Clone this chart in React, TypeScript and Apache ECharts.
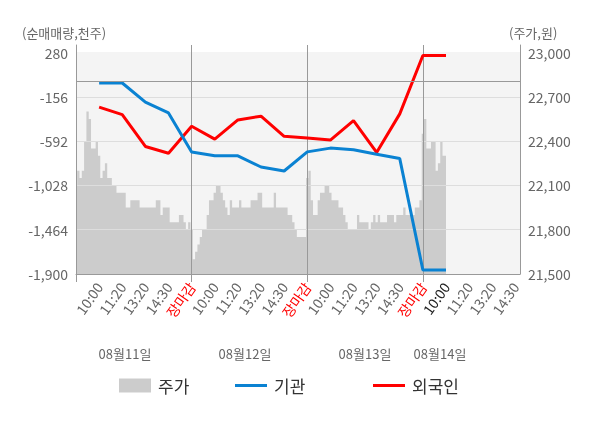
import React, { useEffect, useRef } from "react";
import * as echarts from "echarts";

const FONT = '"Noto Sans CJK KR", "Noto Sans", sans-serif';

// x-axis tick labels (one day = 5 label slots)
const TIME_LABELS = ["10:00", "11:20", "13:20", "14:30", "장마감"];
const DATES = ["08월11일", "08월12일", "08월13일", "08월14일"];
const DATE_X = [125, 245, 365, 440];

// left axis (순매매량, 천주) and right axis (주가, 원) ticks
const LEFT_TICKS = [-1900, -1464, -1028, -592, -156, 280];
const RIGHT_TICKS = [21500, 21800, 22100, 22400, 22700, 23000];

// price (주가), one value per sample; 10 samples per label slot
const PRICE = [
  // 08/11
  22100, 22200, 22150, 22200, 22400, 22600, 22550, 22350, 22350, 22400,
  22300, 22150, 22200, 22250, 22150, 22150, 22100, 22100, 22050, 22050,
  22050, 22050, 21950, 21950, 22000, 22000, 22000, 22000, 21950, 21950,
  21950, 21950, 21950, 21950, 21950, 22000, 22000, 21900, 21950, 21950,
  21950, 21850, 21850, 21850, 21850, 21900, 21900, 21850, 21800, 21850,
  // 08/12
  21800, 21600, 21650, 21700, 21750, 21800, 21800, 21900, 22000, 22000,
  22050, 22100, 22100, 22050, 22000, 21950, 21900, 22000, 21950, 21950,
  21950, 22000, 21950, 21950, 21950, 21950, 22000, 22000, 22000, 22050,
  22050, 21950, 21950, 21950, 21950, 21950, 22050, 21950, 21950, 21950,
  21950, 21950, 21900, 21900, 21850, 21800, 21750, 21750, 21750, 21750,
  // 08/13
  22150, 22200, 22000, 21900, 21900, 22000, 22050, 22050, 22100, 22100,
  22050, 22000, 22000, 22000, 21950, 21950, 21900, 21850, 21800, 21800,
  21800, 21800, 21900, 21850, 21850, 21850, 21850, 21800, 21850, 21900,
  21850, 21900, 21850, 21850, 21850, 21900, 21900, 21900, 21850, 21900,
  21900, 21900, 21950, 21900, 21900, 21900, 21900, 21950, 21950, 22000,
  // 08/14
  22450, 22550, 22350, 22350, 22400, 22400, 22200, 22250, 22400, 22300,
  22300,
];

// net buying (천주) at each label slot: 10:00, 11:20, 13:20, 14:30, 장마감 per day
const INSTITUTION = [
  -20, -20, -209, -315, -700,
  -737, -737, -847, -886, -698,
  -661, -678, -721, -764, -1860,
  -1860,
];
const FOREIGN = [
  -258, -331, -645, -711, -446,
  -572, -384, -347, -545, -562,
  -582, -391, -704, -324, 250,
  250,
];

const SLOT = 10; // samples per label slot
const DAY = SLOT * TIME_LABELS.length;
const TOTAL = 193;

const LEFT_MIN = LEFT_TICKS[0];
const LEFT_MAX = LEFT_TICKS[LEFT_TICKS.length - 1];
const LEFT_INT = LEFT_TICKS[1] - LEFT_TICKS[0];
const RIGHT_MIN = RIGHT_TICKS[0];
const RIGHT_MAX = RIGHT_TICKS[RIGHT_TICKS.length - 1];
const RIGHT_INT = RIGHT_TICKS[1] - RIGHT_TICKS[0];

// layout
const GRID_TOP = 45;
const GRID_BOTTOM = 154;
const PLOT_H = 428 - GRID_TOP - GRID_BOTTOM;
const TOP_PAD = 7.5; // axis lines run this far above the shaded plot area
const EXT = PLOT_H / (PLOT_H - TOP_PAD);

const fmt = (v: number) => Math.round(v).toLocaleString("en-US");

export default function App() {
  const ref = useRef<HTMLDivElement>(null);
  useEffect(() => {
    if (!ref.current) return;
    const chart = echarts.init(ref.current, null, { renderer: "svg" });
    const categories = Array.from({ length: TOTAL }, (_, i) => String(i));
    const labelFor = (i: number) => {
      if (i <= 0 || i % SLOT !== 0) return "";
      return TIME_LABELS[(i / SLOT - 1) % TIME_LABELS.length];
    };
    const colorFor = (i: number) => {
      const t = labelFor(i);
      if (t === "장마감") return "#ff0000";
      if (i === 3 * DAY + SLOT) return "#222222";
      return "#666666";
    };
    const leftRange = LEFT_MAX - LEFT_MIN;
    const rightRange = RIGHT_MAX - RIGHT_MIN;
    const legendBase = {
      top: 372,
      itemWidth: 32,
      selectedMode: false,
      textStyle: { fontSize: 17, color: "#333333", fontFamily: FONT, padding: [0, 0, 0, 2] },
    };
    const option: any = {
      animation: false,
      textStyle: { fontFamily: FONT },
      grid: {
        left: 76,
        right: 80,
        top: GRID_TOP,
        bottom: GRID_BOTTOM,
        show: false,
      },
      xAxis: {
        type: "category",
        data: categories,
        boundaryGap: false,
        z: 2,
        axisLine: { lineStyle: { color: "#999999" } },
        axisTick: {
          show: true,
          interval: (i: number) => i % DAY === 0,
          length: 8,
          lineStyle: { color: "#999999" },
        },
        axisLabel: {
          interval: (i: number) => i > 0 && i % SLOT === 0,
          rotate: 55,
          margin: 10,
          fontSize: 14,
          fontFamily: FONT,
          formatter: (v: string) => labelFor(Number(v)),
          color: (v: string) => colorFor(Number(v)),
        },
        splitLine: {
          show: true,
          interval: (i: number) => i > 0 && i % DAY === 0,
          lineStyle: { color: "#999999", width: 1 },
        },
      },
      yAxis: [
        {
          type: "value",
          position: "left",
          min: 0,
          max: leftRange * EXT,
          interval: LEFT_INT,
          z: 2,
          axisLine: { show: true, lineStyle: { color: "#999999" } },
          axisTick: { show: false },
          axisLabel: {
            formatter: (v: number) => (v > leftRange + 0.5 ? "" : fmt(v + LEFT_MIN)),
            color: "#666666",
            fontSize: 14,
            fontFamily: FONT,
            margin: 8,
          },
          splitLine: {
            show: true,
            showMaxLine: false,
            lineStyle: {
              color: ["#dddddd", "#dddddd", "#dddddd", "#dddddd", "#dddddd", "#f4f4f4"],
            },
          },
        },
        {
          type: "value",
          position: "right",
          min: 0,
          max: rightRange * EXT,
          interval: RIGHT_INT,
          z: 2,
          axisLine: { show: true, lineStyle: { color: "#999999" } },
          axisTick: { show: false },
          axisLabel: {
            formatter: (v: number) => (v > rightRange + 0.5 ? "" : fmt(v + RIGHT_MIN)),
            color: "#666666",
            fontSize: 14,
            fontFamily: FONT,
            margin: 8,
          },
          splitLine: { show: false },
        },
      ],
      legend: [
        { ...legendBase, data: [{ name: "주가", icon: "rect" }], left: 114, itemHeight: 14 },
        { ...legendBase, data: [{ name: "기관", icon: "rect" }], left: 230, itemHeight: 3 },
        { ...legendBase, data: [{ name: "외국인", icon: "rect" }], left: 368, itemHeight: 3 },
      ],
      graphic: [
        {
          type: "text",
          left: 22,
          top: 26,
          style: { text: "(순매매량,천주)", fill: "#666666", fontSize: 13, fontFamily: FONT },
        },
        {
          type: "text",
          left: 509,
          top: 26,
          style: { text: "(주가,원)", fill: "#666666", fontSize: 13, fontFamily: FONT },
        },
        ...DATES.map((d, k) => ({
          type: "text",
          x: DATE_X[k],
          y: 353,
          style: {
            text: d,
            fill: "#666666",
            fontSize: 13,
            fontFamily: FONT,
            textAlign: "center",
            textVerticalAlign: "middle",
          },
        })),
      ],
      series: [
        {
          name: "주가",
          type: "line",
          yAxisIndex: 1,
          data: PRICE.map((p, i) => [i, p - RIGHT_MIN]),
          symbol: "none",
          step: "middle",
          lineStyle: { width: 0, color: "#cccccc" },
          itemStyle: { color: "#cccccc" },
          areaStyle: { color: "#cccccc", opacity: 1, origin: "start" },
          z: 1.5,
          silent: true,
          markArea: {
            silent: true,
            itemStyle: { color: "#f4f4f4" },
            label: { show: false },
            data: [[{ yAxis: 0 }, { yAxis: rightRange }]],
          },
        },
        {
          name: "외국인",
          type: "line",
          yAxisIndex: 0,
          data: FOREIGN.map((v, k) => [(k + 1) * SLOT, v - LEFT_MIN]),
          symbol: "none",
          lineStyle: { width: 3, color: "#ff0000" },
          itemStyle: { color: "#ff0000" },
          z: 3,
        },
        {
          name: "기관",
          type: "line",
          yAxisIndex: 0,
          data: INSTITUTION.map((v, k) => [(k + 1) * SLOT, v - LEFT_MIN]),
          symbol: "none",
          lineStyle: { width: 3, color: "#0a82d2" },
          itemStyle: { color: "#0a82d2" },
          z: 4,
          markLine: {
            silent: true,
            symbol: "none",
            label: { show: false },
            lineStyle: { color: "#999999", width: 1, type: "solid" },
            data: [{ yAxis: 0 - LEFT_MIN }],
          },
        },
      ],
    };
    chart.setOption(option);
    return () => chart.dispose();
  }, []);
  return (
    <div
      ref={ref}
      style={{ position: "fixed", left: 0, top: 0, width: 600, height: 428 }}
    />
  );
}
